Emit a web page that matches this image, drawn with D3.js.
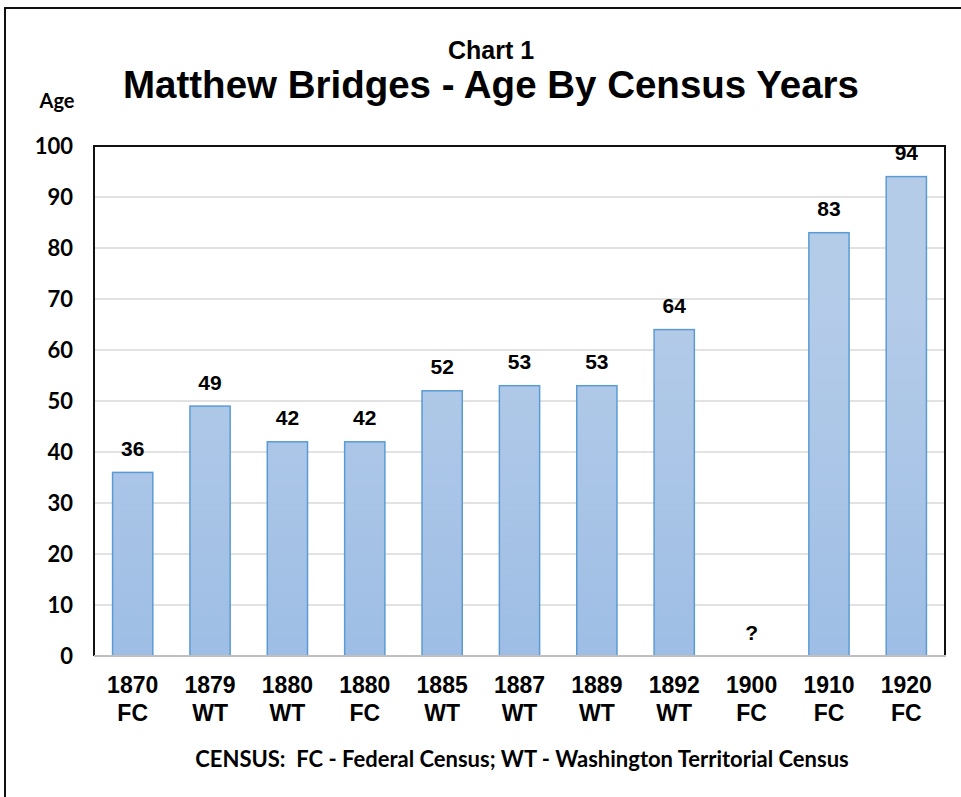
<!DOCTYPE html>
<html>
<head>
<meta charset="utf-8">
<script src="https://cdn.jsdelivr.net/npm/d3@7"></script>
<style>
  body { margin: 0; background: #fff; }
  svg { display: block; }
</style>
</head>
<body>
<svg id="chart"></svg>
<script>
// data
var years = ["1870", "1879", "1880", "1880", "1885", "1887", "1889", "1892", "1900", "1910", "1920"],
    census = ["FC", "WT", "WT", "FC", "WT", "WT", "WT", "WT", "FC", "FC", "FC"],
    ages = [36, 49, 42, 42, 52, 53, 53, 64, null, 83, 94],
    yTicks = [0, 10, 20, 30, 40, 50, 60, 70, 80, 90, 100];

var W = 961, H = 797,
    margin = {top: 146, right: 16, bottom: 141, left: 94},
    width = W - margin.left - margin.right,
    height = H - margin.top - margin.bottom;

var data = years.map(function(y, i){ return {key: i, year: y, census: census[i], age: ages[i]}; });

var svg = d3.select("#chart").attr("width", W).attr("height", H);

var defs = svg.append("defs");
var grad = defs.append("linearGradient")
  .attr("id", "barFill")
  .attr("gradientUnits", "userSpaceOnUse")
  .attr("x1", 0).attr("y1", margin.top).attr("x2", 0).attr("y2", margin.top + height);
grad.append("stop").attr("offset", "0%").attr("stop-color", "#b5cce9");
grad.append("stop").attr("offset", "100%").attr("stop-color", "#95b8e3");

// outer frame (runs past the right and bottom edges)
svg.append("rect")
  .attr("x", 5).attr("y", 8).attr("width", 1000).attr("height", 1000)
  .attr("fill", "none").attr("stroke", "#111").attr("stroke-width", 2);

// titles
svg.append("text")
  .attr("x", 491).attr("y", 59)
  .attr("text-anchor", "middle")
  .style("font-family", "Liberation Sans, Arial, sans-serif")
  .style("font-weight", "bold").style("font-size", "25px")
  .text("Chart 1");

svg.append("text")
  .attr("x", 491).attr("y", 98)
  .attr("text-anchor", "middle")
  .style("font-family", "Liberation Sans, Arial, sans-serif")
  .style("font-weight", "bold").style("font-size", "38.5px")
  .text("Matthew Bridges - Age By Census Years");

svg.append("text")
  .attr("x", 57).attr("y", 108)
  .attr("text-anchor", "middle")
  .style("font-family", "Lato, sans-serif")
  .style("font-weight", "bold").style("font-size", "20px")
  .text("Age");

var g = svg.append("g")
  .attr("transform", "translate(" + margin.left + "," + margin.top + ")");

var x = d3.scaleBand()
  .domain(data.map(function(d){ return d.key; }))
  .range([0, width])
  .paddingInner(0.48)
  .paddingOuter(0.24);

var y = d3.scaleLinear().domain([0, 100]).range([height, 0]);

// gridlines
g.selectAll(".grid")
  .data(yTicks.slice(1))
  .enter().append("line")
    .attr("class", "grid")
    .attr("x1", 0).attr("x2", width)
    .attr("y1", function(d){ return y(d); })
    .attr("y2", function(d){ return y(d); })
    .attr("stroke", "#d9d9d9").attr("stroke-width", 1.5);

// bars
g.selectAll(".bar")
  .data(data.filter(function(d){ return d.age != null; }))
  .enter().append("rect")
    .attr("class", "bar")
    .attr("x", function(d){ return x(d.key); })
    .attr("width", x.bandwidth())
    .attr("y", function(d){ return y(d.age); })
    .attr("height", function(d){ return height - y(d.age); })
    .attr("fill", "url(#barFill)")
    .attr("stroke", "#5b9bd5").attr("stroke-width", 1.5);

// plot frame: black left, top, right; grey baseline
g.append("path")
  .attr("d", "M0," + height + "V0H" + width + "V" + height)
  .attr("fill", "none").attr("stroke", "#111").attr("stroke-width", 2);
g.append("line")
  .attr("x1", 0).attr("x2", width + 1)
  .attr("y1", height).attr("y2", height)
  .attr("stroke", "#bfbfbf").attr("stroke-width", 2);

// value labels
g.selectAll(".value")
  .data(data)
  .enter().append("text")
    .attr("class", "value")
    .attr("x", function(d){ return x(d.key) + x.bandwidth() / 2; })
    .attr("y", function(d){ return y(d.age == null ? 0 : d.age) - 16.5; })
    .attr("text-anchor", "middle")
    .style("font-family", "Liberation Sans, Arial, sans-serif")
    .style("font-weight", "bold").style("font-size", "21px")
    .text(function(d){ return d.age == null ? "?" : d.age; });

// y axis
var yAxis = g.append("g")
  .call(d3.axisLeft(y).tickValues(yTicks).tickSize(0).tickPadding(21));
yAxis.select(".domain").remove();
yAxis.selectAll("text")
  .style("font-family", "Lato, sans-serif")
  .style("font-weight", "bold").style("font-size", "22px")
  .attr("fill", "#000");

// x axis, two line labels
var xAxis = g.append("g")
  .attr("transform", "translate(0," + height + ")")
  .call(d3.axisBottom(x).tickSize(0).tickFormat(""));
xAxis.select(".domain").remove();
xAxis.selectAll(".tick text").each(function(k){
  var t = d3.select(this)
    .attr("y", 0).attr("dy", null)
    .style("font-family", "Liberation Sans, Arial, sans-serif")
    .style("font-weight", "bold").style("font-size", "23px")
    .attr("fill", "#000");
  t.append("tspan").attr("x", 0).attr("y", 37).text(years[k]);
  t.append("tspan").attr("x", 0).attr("y", 65).text(census[k]);
});

// footnote
svg.append("text")
  .attr("x", 522).attr("y", 767)
  .attr("text-anchor", "middle")
  .style("white-space", "pre")
  .style("font-family", "Lato, sans-serif")
  .style("font-weight", "bold").style("font-size", "22px")
  .text("CENSUS:  FC - Federal Census; WT - Washington Territorial Census");
</script>
</body>
</html>
